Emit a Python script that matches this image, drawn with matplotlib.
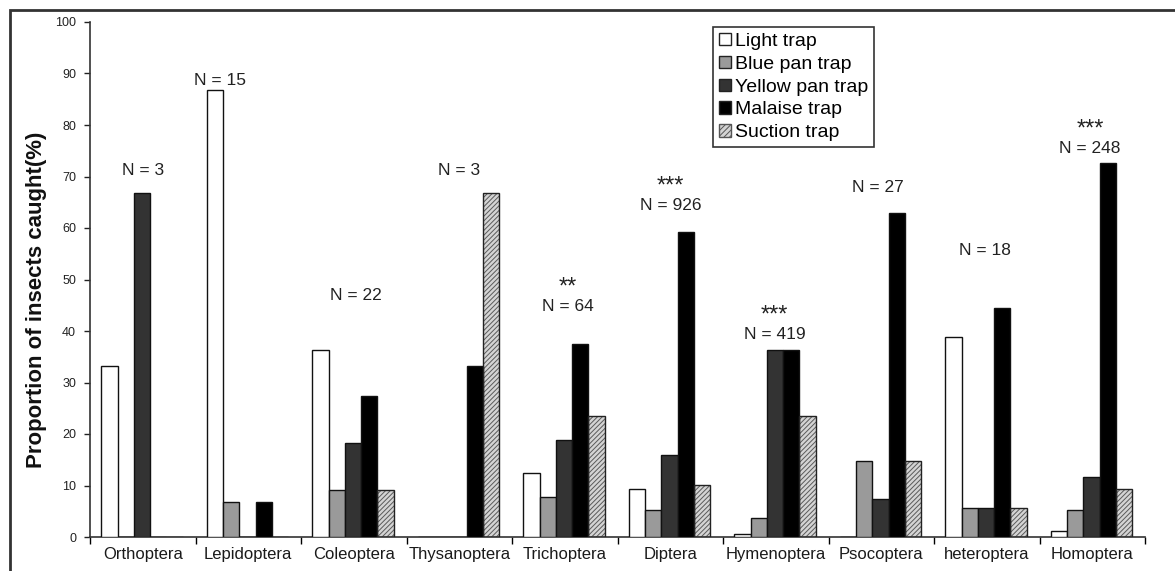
import matplotlib
matplotlib.use('Agg')
import matplotlib.pyplot as plt
import numpy as np
from matplotlib.patches import Patch, Rectangle

plt.rcParams['font.family'] = ['Liberation Sans', 'DejaVu Sans']
plt.rcParams['hatch.linewidth'] = 0.7

categories = ['Orthoptera', 'Lepidoptera', 'Coleoptera', 'Thysanoptera', 'Trichoptera',
              'Diptera', 'Hymenoptera', 'Psocoptera', 'heteroptera', 'Homoptera']
series_names = ['Light trap', 'Blue pan trap', 'Yellow pan trap', 'Malaise trap', 'Suction trap']
light = [33.3, 86.7, 36.4, 0, 12.5, 9.4, 0.5, 0, 38.9, 1.2]
blue = [0, 6.7, 9.1, 0, 7.8, 5.2, 3.6, 14.8, 5.6, 5.2]
yellow = [66.7, 0, 18.2, 0, 18.75, 16.0, 36.3, 7.4, 5.6, 11.7]
malaise = [0, 6.7, 27.3, 33.3, 37.5, 59.2, 36.3, 63.0, 44.4, 72.6]
suction = [0, 0, 9.1, 66.7, 23.4, 10.1, 23.4, 14.8, 5.6, 9.3]

n_labels = ['N = 3', 'N = 15', 'N = 22', 'N = 3', 'N = 64',
            'N = 926', 'N = 419', 'N = 27', 'N = 18', 'N = 248']
sig_labels = ['', '', '', '', '**', '***', '***', '', '', '***']
n_label_x = [0.0, 0.73, 2.02, 3.0, 4.03, 5.0, 5.99, 6.97, 7.98, 8.98]
n_label_y = [71.1, 88.7, 46.8, 71.1, 44.8, 64.3, 39.4, 67.8, 55.7, 75.4]

W, H = 1175, 571
fig = plt.figure(figsize=(W / 100, H / 100), dpi=100)
fig.patch.set_facecolor('white')

# outer frame (top and left visible)
fig.add_artist(Rectangle((10 / W, -0.05), 1.2, 1 - 10 / H + 0.05, transform=fig.transFigure,
                         fill=False, edgecolor='#333333', linewidth=2))

ax = fig.add_axes([90 / W, (H - 537) / H, (1145 - 90) / W, (537 - 22) / H])

x = np.arange(len(categories))
bw = 0.154
offsets = (np.arange(5) - 2) * bw - 0.008
values = [light, blue, yellow, malaise, suction]
faces = ['white', '#9a9a9a', '#333333', '#000000', '#d4d4d4']

for i, (vals, fc) in enumerate(zip(values, faces)):
    if i == 4:
        ax.bar(x + offsets[i], vals, width=bw, facecolor=fc, edgecolor='#5a5a5a',
               hatch='///////', linewidth=0, zorder=2)
        ax.bar(x + offsets[i], vals, width=bw, fill=False, edgecolor='#222222',
               linewidth=1.0, zorder=3)
    else:
        ax.bar(x + offsets[i], vals, width=bw, facecolor=fc, edgecolor='#111111',
               linewidth=1.0, zorder=3)

for xi, yi, nl, sl in zip(n_label_x, n_label_y, n_labels, sig_labels):
    ax.text(xi, yi, nl, ha='center', va='center', fontsize=12.5, color='#222222')
    if sl:
        ax.text(xi, yi + 3.7, sl, ha='center', va='center', fontsize=17, color='#222222')

ax.set_xlim(-0.5, len(categories) - 0.5)
ax.set_ylim(0, 100)
ax.set_yticks(np.arange(0, 101, 10))
ax.tick_params(axis='y', labelsize=9, length=4, width=1, direction='out', pad=6, colors='#222222')

ax.set_xticks(np.arange(-0.5, len(categories), 1.0))
ax.set_xticklabels([])
ax.tick_params(axis='x', which='major', length=5, width=1, direction='out')
ax.set_xticks(x, minor=True)
ax.set_xticklabels(categories, minor=True)
ax.tick_params(axis='x', which='minor', length=0, labelsize=12, pad=7, colors='#1a1a1a')

for s in ['top', 'right']:
    ax.spines[s].set_visible(False)
for s in ['left', 'bottom']:
    ax.spines[s].set_color('#333333')
    ax.spines[s].set_linewidth(1.2)

fig.text(37 / W, 1 - 300 / H, 'Proportion of insects caught(%)', rotation=90,
         ha='center', va='center', fontsize=16, fontweight='bold', color='#111111')

handles = [Patch(facecolor=faces[0], edgecolor='#222222'),
           Patch(facecolor=faces[1], edgecolor='#222222'),
           Patch(facecolor=faces[2], edgecolor='#222222'),
           Patch(facecolor=faces[3], edgecolor='#222222'),
           Patch(facecolor=faces[4], edgecolor='#555555', hatch='//////')]
leg = fig.legend(handles, series_names, loc='upper left', bbox_to_anchor=(713 / W, 1 - 27 / H),
                 fontsize=14, frameon=True, fancybox=False, edgecolor='#333333', framealpha=1,
                 handlelength=0.6, handleheight=0.6, handletextpad=0.25, labelspacing=0.3,
                 borderpad=0.3, borderaxespad=0)
leg.get_frame().set_linewidth(1.2)

fig.savefig('out.png', dpi=100)
